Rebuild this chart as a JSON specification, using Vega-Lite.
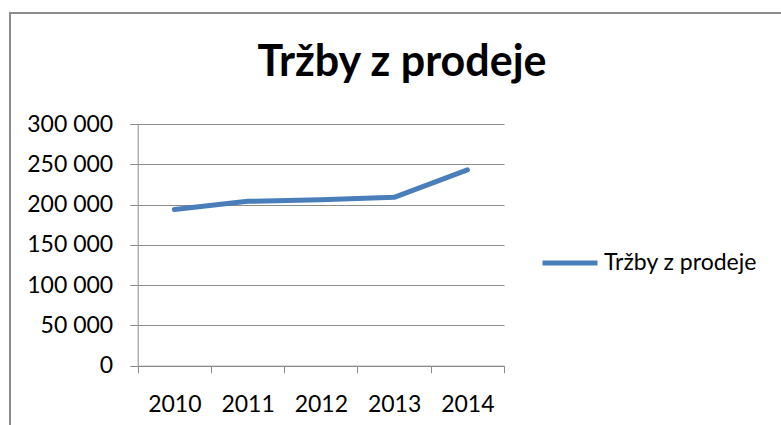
{
  "$schema": "https://vega.github.io/schema/vega-lite/v6.json",
  "width": 771,
  "height": 412,
  "autosize": {"type": "none"},
  "padding": {"left": 10, "top": 13, "right": 0, "bottom": 0},
  "background": "white",
  "config": {
    "font": "Lato",
    "view": {"stroke": "#8c8c8c", "strokeWidth": 2, "strokeDash": [771, 1183, 413, 0]}
  },
  "title": {
    "text": "Tržby z prodeje",
    "font": "Lato",
    "fontSize": 43,
    "fontWeight": "bold",
    "color": "#000000",
    "anchor": "middle",
    "frame": "group",
    "baseline": "alphabetic",
    "offset": 0,
    "dx": 6.5,
    "dy": 106
  },
  "data": {
    "values": [
      {"year": "2010", "value": 194000, "series": "Tržby z prodeje"},
      {"year": "2011", "value": 204000, "series": "Tržby z prodeje"},
      {"year": "2012", "value": 206000, "series": "Tržby z prodeje"},
      {"year": "2013", "value": 209000, "series": "Tržby z prodeje"},
      {"year": "2014", "value": 243000, "series": "Tržby z prodeje"}
    ]
  },
  "mark": {"type": "line", "strokeWidth": 5, "strokeCap": "round", "strokeJoin": "round"},
  "encoding": {
    "x": {
      "field": "year",
      "type": "ordinal",
      "scale": {"type": "band", "paddingInner": 0, "paddingOuter": 0, "range": [127.7, 494]},
      "axis": {
        "title": null,
        "offset": -59.3,
        "tickBand": "extent",
        "labelAngle": 0,
        "labelFont": "Lato",
        "labelFontSize": 23,
        "labelColor": "#000000",
        "labelPadding": 21,
        "tickSize": 7,
        "tickColor": "#8c8c8c",
        "tickWidth": 1,
        "domainColor": "#8c8c8c",
        "domainWidth": 1,
        "grid": false
      }
    },
    "y": {
      "field": "value",
      "type": "quantitative",
      "scale": {"domain": [0, 300000], "range": [352.7, 111], "nice": false},
      "axis": {
        "title": null,
        "offset": -127.7,
        "values": [0, 50000, 100000, 150000, 200000, 250000, 300000],
        "labelExpr": "replace(format(datum.value, ','), ',', ' ')",
        "labelFont": "Lato",
        "labelFontSize": 23,
        "labelColor": "#000000",
        "labelPadding": 17,
        "tickSize": 8,
        "tickColor": "#8c8c8c",
        "tickWidth": 1,
        "domainColor": "#8c8c8c",
        "domainWidth": 1,
        "grid": true,
        "gridColor": "#8c8c8c",
        "gridOpacity": 1,
        "gridWidth": 1
      }
    },
    "color": {
      "field": "series",
      "type": "nominal",
      "scale": {"range": ["#4A7EBB"]},
      "legend": {
        "title": null,
        "orient": "none",
        "legendX": 530,
        "legendY": 220,
        "padding": 0,
        "symbolType": "stroke",
        "symbolSize": 3025,
        "symbolStrokeWidth": 5,
        "labelFont": "Lato",
        "labelFontSize": 23,
        "labelColor": "#000000",
        "labelOffset": 4
      }
    }
  }
}
